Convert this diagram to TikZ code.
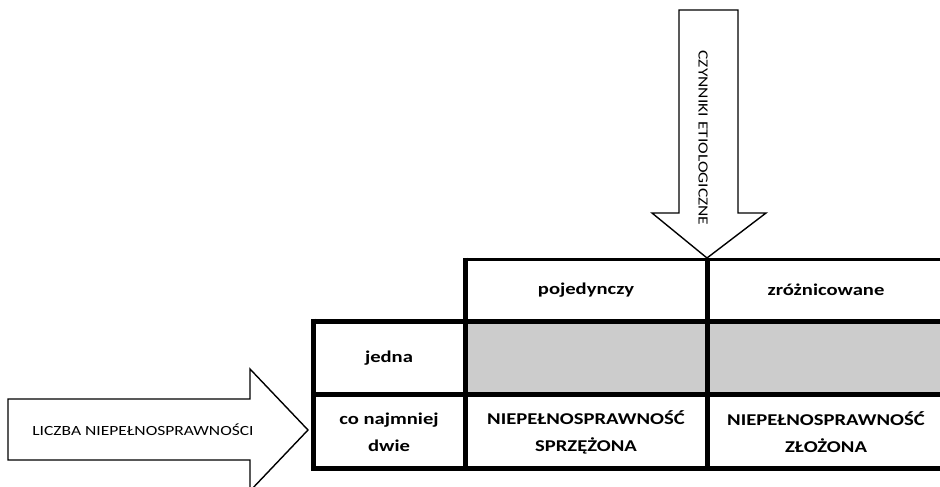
\documentclass[tikz,border=0pt]{standalone}
\usepackage{fontspec}
\setmainfont{Carlito}[FakeStretch=1.25]
\begin{document}
\begin{tikzpicture}[x=1pt,y=-1pt,
  cellfont/.style={font=\fontsize{16.5}{27}\selectfont\bfseries, align=center, inner sep=0pt},
  arrowfont/.style={font=\fontsize{14}{16}\selectfont, inner sep=0pt},
  bigarrow/.style={draw=black, line width=1.4pt, fill=white, line join=miter},
  grid/.style={line width=5pt},
  thin grid/.style={line width=3pt}]
\useasboundingbox (0,0) rectangle (940,487);
\clip (0,0) rectangle (940,487);

% shaded cells of the first data row
\fill[gray!40] (465,321) rectangle (950,394);

% table rules
\draw[thin grid] (465,259) -- (950,259);
\draw[grid] (313,321) -- (950,321);
\draw[grid] (313,394) -- (950,394);
\draw[grid] (313,468) -- (950,468);
\draw[grid] (313,318.5) -- (313,470.5);
\draw[grid] (465,257.5) -- (465,470.5);
\draw[grid] (707,257.5) -- (707,470.5);

% vertical arrow: etiological factors
\draw[bigarrow] (679,10) -- (738,10) -- (738,213) -- (766,213) -- (707,258)
  -- (652,213) -- (679,213) -- cycle;
\node[arrowfont, rotate=-90] (factors) at (703,138) {CZYNNIKI ETIOLOGICZNE};

% horizontal arrow: number of disabilities
\draw[bigarrow] (8,399) -- (250,399) -- (250,369) -- (308,430) -- (250,491)
  -- (250,460) -- (8,460) -- cycle;
\node[arrowfont] (count) at (143,430) {LICZBA NIEPEŁNOSPRAWNOŚCI};

% column headers
\node[cellfont] (single) at (586,290) {pojedynczy};
\node[cellfont] (varied) at (826,290) {zróżnicowane};

% row headers
\node[cellfont] (one) at (389,358) {jedna};
\node[cellfont] (two) at (389,432) {co najmniej\\dwie};

% result cells
\node[cellfont] (coupled) at (586,432) {NIEPEŁNOSPRAWNOŚĆ\\SPRZĘŻONA};
\node[cellfont] (complex) at (826,432) {NIEPEŁNOSPRAWNOŚĆ\\ZŁOŻONA};
\end{tikzpicture}
\end{document}
